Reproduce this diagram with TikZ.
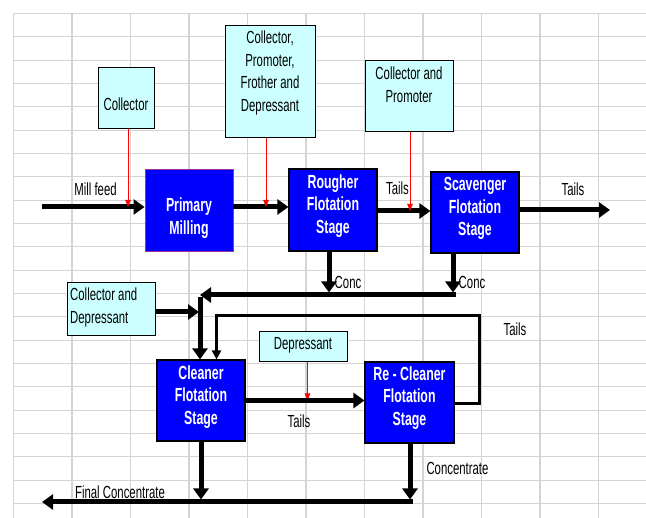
\documentclass[tikz,border=0pt]{standalone}
\usepackage{fontspec}
\setmainfont[FakeStretch=0.65]{Liberation Sans}
\usetikzlibrary{arrows.meta,calc}
\definecolor{gridc}{HTML}{D4D4D4}
\definecolor{cyanbox}{HTML}{CCFFFF}
\definecolor{bluebox}{HTML}{0000FF}
\definecolor{purpleedge}{HTML}{993399}
\begin{document}
\begin{tikzpicture}[x=1pt,y=-1pt,
  gridline/.style={draw=gridc,line width=1.3pt},
  cbox/.style={draw=black,line width=1pt,fill=cyanbox,rectangle,inner sep=0pt},
  bbox/.style={draw=black,line width=1.2pt,fill=bluebox,rectangle,inner sep=0pt},
  ctext/.style={inner sep=0pt,align=center,font=\fontsize{17.5}{22.7}\selectfont},
  btext/.style={inner sep=0pt,align=center,text=white,font=\fontsize{19}{22.7}\selectfont\bfseries},
  lbl/.style={inner sep=0pt,font=\fontsize{17.5}{22.7}\selectfont},
  flow/.style={line width=5pt,-{Triangle[length=11pt,width=15pt]}},
  thinflow/.style={line width=3pt,-{Triangle[length=9pt,width=9pt]}},
  reagent/.style={draw=red,line width=0.8pt,-{Triangle[length=7pt,width=5.5pt]}}
]
\useasboundingbox (0,0) rectangle (646,518);
\fill[white] (0,0) rectangle (646,518);
% grid
\foreach \i in {0,...,21}{\draw[gridline] (13.5,13.5+23.333*\i) -- (646,13.5+23.333*\i);}
\foreach \i in {0,...,10}{\draw[gridline] (13.5+58.5*\i,13.5) -- (13.5+58.5*\i,518);}

% reagent boxes
\node[cbox,minimum width=56pt,minimum height=61pt] (coll) at (126,98.5) {};
\node[ctext] (coll-t) at (126,104) {Collector};
\node[cbox,minimum width=90pt,minimum height=112pt] (cpfd) at (270,82) {};
\node[ctext] (cpfd-t) at (270,73) {Collector,\\Promoter,\\Frother and\\Depressant};
\node[cbox,minimum width=88pt,minimum height=71pt] (cp) at (409,96.5) {};
\node[ctext] (cp-t) at (409,85) {Collector and\\Promoter};
\node[cbox,minimum width=88pt,minimum height=53pt] (cd) at (111,309.5) {};
\node[ctext,align=left,anchor=west] (cd-t) at (70,307.5) {Collector and\\Depressant};
\node[cbox,minimum width=88pt,minimum height=30pt] (dep) at (303,347) {};
\node[ctext] (dep-t) at (303,345) {Depressant};

% process boxes
\node[bbox,draw=purpleedge,line width=0.9pt,minimum width=88pt,minimum height=82pt] (prim) at (189,210) {};
\node[btext] (prim-t) at (189,218) {Primary\\Milling};
\node[bbox,minimum width=88pt,minimum height=82pt] (rough) at (333,210) {};
\node[btext] (rough-t) at (333,206) {Rougher\\Flotation\\Stage};
\node[bbox,minimum width=88pt,minimum height=81pt] (scav) at (475,212.5) {};
\node[btext] (scav-t) at (475,208.5) {Scavenger\\Flotation\\Stage};
\node[bbox,minimum width=88pt,minimum height=81pt] (clean) at (201,400.5) {};
\node[btext] (clean-t) at (201,397) {Cleaner\\Flotation\\Stage};
\node[bbox,minimum width=89pt,minimum height=81pt] (recl) at (409.5,402.5) {};
\node[btext] (recl-t) at (409.5,398) {Re - Cleaner\\Flotation\\Stage};

% coordinates
\coordinate (feed) at (42,207);
\coordinate (tailsout) at (610,210);
\coordinate (j1) at (453,295);
\coordinate (jL) at (200,295);
\coordinate (cdin) at (199,312);
\coordinate (l1) at (479,316);
\coordinate (l2) at (216.5,316);
\coordinate (j2) at (410,502);
\coordinate (jB) at (42,502);

% main flows
\draw[flow] (feed) -- (feed -| prim.west);
\draw[flow] (prim.east |- feed) -- (rough.west |- feed);
\draw[flow] (rough.east) ++(0,1) -- ($(scav.west |- rough.east)+(0,1)$);
\draw[flow] (scav.east |- tailsout) -- (tailsout);

% reagent additions
\draw[reagent] ([xshift=2]coll.south) -- ([xshift=2]coll.south |- feed);
\draw[reagent] ([xshift=-4]cpfd.south) -- ([xshift=-4]cpfd.south |- feed);
\draw[reagent] ([xshift=1]cp.south) -- ($([xshift=1]cp.south |- rough.east)+(0,1)$);
\draw[reagent] ([xshift=4.5]dep.south) -- ([xshift=4.5]dep.south |- clean.east);

% concentrates to cleaner
\draw[flow,shorten >=2.5pt] ([xshift=-4]rough.south) -- ([xshift=-4]rough.south |- j1);
\draw[flow,shorten >=2.5pt] (scav.south -| j1) -- (j1);
\draw[flow] ([xshift=2.5]j1) -- (jL);
\draw[flow] ([yshift=-2.5]jL) -- (jL |- clean.north);
\draw[flow] (cd.east |- cdin) -- (cdin);

% cleaner to re-cleaner and recycle
\draw[flow] (clean.east) -- (clean.east -| recl.west);
\draw[thinflow] ([yshift=-1.5]recl.east) -| (l1) -- (l2) -- (l2 |- clean.north);

% final concentrate
\draw[flow,shorten >=2.5pt] (clean.south) -- (clean.south |- j2);
\draw[flow,shorten >=2.5pt] (recl.south -| j2) -- (j2);
\draw[flow] ([xshift=2.5]j2) -- (jB);

% labels
\node[lbl] (lmill) at (95.5,189) {Mill feed};
\node[lbl] (ltails1) at (397.5,188) {Tails};
\node[lbl] (ltails2) at (573,189) {Tails};
\node[lbl] (lconc1) at (348,282) {Conc};
\node[lbl] (lconc2) at (472,282) {Conc};
\node[lbl] (ltails3) at (515,329) {Tails};
\node[lbl] (ltails4) at (299,421) {Tails};
\node[lbl] (lconcent) at (457.5,468) {Concentrate};
\node[lbl] (lfinal) at (120,492) {Final Concentrate};
\end{tikzpicture}
\end{document}
